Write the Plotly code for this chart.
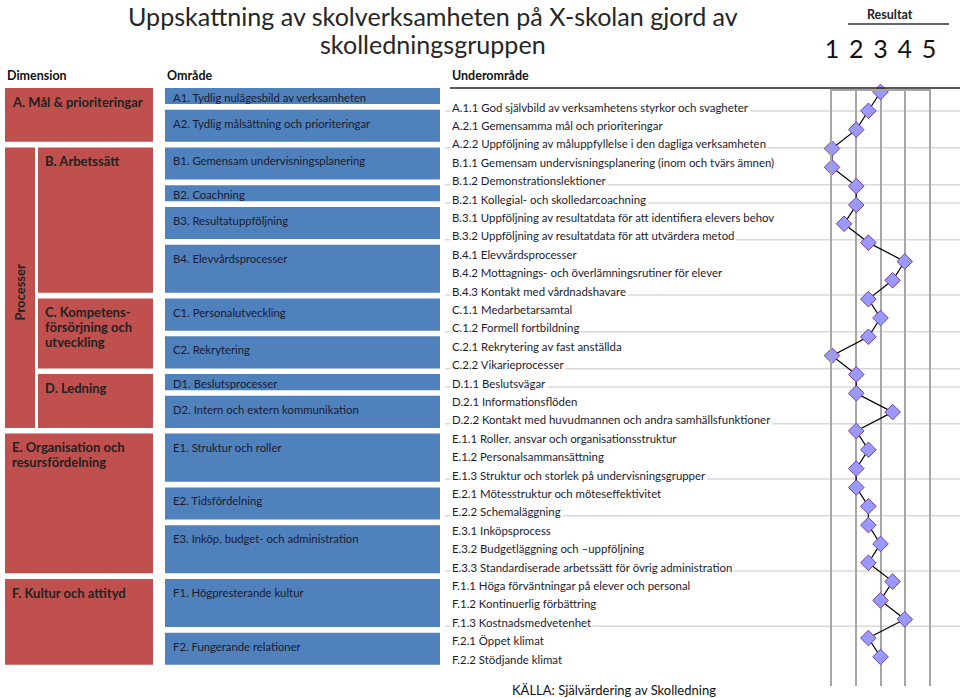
import plotly.graph_objects as go

# ---------------- data ----------------
dimensions = ["A. Mål & prioriteringar", "B. Arbetssätt",
              "C. Kompetens-<br>försörjning och<br>utveckling", "D. Ledning",
              "E. Organisation och<br>resursfördelning", "F. Kultur och attityd"]
dimension_area_counts = [2, 4, 2, 2, 3, 2]
dimension_in_group = [False, True, True, True, False, False]
group_label = "Processer"

areas = ["A1. Tydlig nulägesbild av verksamheten",
         "A2. Tydlig målsättning och prioriteringar",
         "B1. Gemensam undervisningsplanering",
         "B2. Coachning",
         "B3. Resultatuppföljning",
         "B4. Elevvårdsprocesser",
         "C1. Personalutveckling",
         "C2. Rekrytering",
         "D1. Beslutsprocesser",
         "D2. Intern och extern kommunikation",
         "E1. Struktur och roller",
         "E2. Tidsfördelning",
         "E3. Inköp, budget- och administration",
         "F1. Högpresterande kultur",
         "F2. Fungerande relationer"]
area_subarea_counts = [1, 2, 2, 1, 2, 3, 2, 2, 1, 2, 3, 2, 3, 3, 2]

subareas = [
    "A.1.1 God självbild av verksamhetens styrkor och svagheter",
    "A.2.1 Gemensamma mål och prioriteringar",
    "A.2.2 Uppföljning av måluppfyllelse i den dagliga verksamheten",
    "B.1.1 Gemensam undervisningsplanering (inom och tvärs ämnen)",
    "B.1.2 Demonstrationslektioner",
    "B.2.1 Kollegial- och skolledarcoachning",
    "B.3.1 Uppföljning av resultatdata för att identifiera elevers behov",
    "B.3.2 Uppföljning av resultatdata för att utvärdera metod",
    "B.4.1 Elevvårdsprocesser",
    "B.4.2 Mottagnings- och överlämningsrutiner för elever",
    "B.4.3 Kontakt med vårdnadshavare",
    "C.1.1 Medarbetarsamtal",
    "C.1.2 Formell fortbildning",
    "C.2.1 Rekrytering av fast anställda",
    "C.2.2 Vikarieprocesser",
    "D.1.1 Beslutsvägar",
    "D.2.1 Informationsflöden",
    "D.2.2 Kontakt med huvudmannen och andra samhällsfunktioner",
    "E.1.1 Roller, ansvar och organisationsstruktur",
    "E.1.2 Personalsammansättning",
    "E.1.3 Struktur och storlek på undervisningsgrupper",
    "E.2.1 Mötesstruktur och möteseffektivitet",
    "E.2.2 Schemaläggning",
    "E.3.1 Inköpsprocess",
    "E.3.2 Budgetläggning och –uppföljning",
    "E.3.3 Standardiserade arbetssätt för övrig administration",
    "F.1.1 Höga förväntningar på elever och personal",
    "F.1.2 Kontinuerlig förbättring",
    "F.1.3 Kostnadsmedvetenhet",
    "F.2.1 Öppet klimat",
    "F.2.2 Stödjande klimat",
]

results = [3, 2.5, 2, 1, 1, 2, 2, 1.5, 2.5, 4, 3.5, 2.5, 3, 2.5, 1, 2,
           2, 3.5, 2, 2.5, 2, 2, 2.5, 2.5, 3, 2.5, 3.5, 3, 4, 2.5, 3]
result_ticks = [1, 2, 3, 4, 5]

title_lines = ["Uppskattning av skolverksamheten på X-skolan gjord av",
               "skolledningsgruppen"]
headers = ["Dimension", "Område", "Underområde"]
result_title = "Resultat"
source_text = "KÄLLA: Självärdering av Skolledning"

# ---------------- layout constants (pixels) ----------------
W, H = 960, 698
FONT = "Lato"
RED = "#C0504D"
BLUE = "#4F81BD"
TXT = "#1b1b30"

UNIT_PX, BOX_TOP, GAP = 16.03, 88, 0.356    # boxes (gap between boxes in units)
ROW_PX, ROW0 = 18.4, 107                    # subarea text rows
PT_PX, PT0 = 18.83, 92                      # result points
GRID_TOP, GRID_BOT = 91, 686
X1_PX, X5_PX = 832, 929
DIM_LINE = 14.8 / UNIT_PX                   # line spacing of dimension labels


def py(p):
    return 1 - p / H


fig = go.Figure()

# invisible traces so that the frame axes exist
fig.add_trace(go.Scatter(x=[W / 2], y=[10], xaxis="x", yaxis="y", mode="markers",
                         marker=dict(opacity=0, size=1), hoverinfo="skip",
                         showlegend=False))
fig.add_trace(go.Scatter(x=[W / 2], y=[10], xaxis="x", yaxis="y2", mode="markers",
                         marker=dict(opacity=0, size=1), hoverinfo="skip",
                         showlegend=False))

# result line
fig.add_trace(go.Scatter(
    x=results, y=list(range(len(results))), xaxis="x2", yaxis="y3",
    mode="lines+markers", cliponaxis=False, showlegend=False,
    line=dict(color="black", width=1.2),
    marker=dict(symbol="diamond", size=12, color="#9999FF",
                line=dict(color="#7a3f96", width=1))))

shapes = []
ann = []

# area boxes (blue)
cum = 0
area_tops = []
area_bottoms = []
for k, (name, n) in enumerate(zip(areas, area_subarea_counts)):
    y0 = cum + k * GAP
    y1 = y0 + n
    area_tops.append(y0)
    area_bottoms.append(y1)
    shapes.append(dict(type="rect", xref="x", yref="y", x0=165, x1=440,
                       y0=y0, y1=y1, fillcolor=BLUE, line=dict(width=0),
                       layer="above"))
    off = min(0.84, n / 2 + 0.1)
    ann.append(dict(text=name, xref="x", yref="y", x=171, y=y0 + off,
                    xanchor="left", yanchor="middle", showarrow=False,
                    font=dict(family=FONT, size=11.3, color=TXT)))
    cum += n

# dimension boxes (red)
ai = 0
group_top = group_bottom = None
for name, na, inner in zip(dimensions, dimension_area_counts, dimension_in_group):
    y0 = area_tops[ai]
    y1 = area_bottoms[ai + na - 1]
    x0 = 38 if inner else 5
    shapes.append(dict(type="rect", xref="x", yref="y", x0=x0, x1=153,
                       y0=y0, y1=y1, fillcolor=RED, line=dict(width=0),
                       layer="above"))
    for j, line in enumerate(name.split("<br>")):
        ann.append(dict(text="<b>" + line + "</b>", xref="x", yref="y", x=x0 + 5,
                        y=y0 + 0.86 + j * DIM_LINE, xanchor="left",
                        yanchor="middle", showarrow=False,
                        font=dict(family=FONT, size=13, color="#222222")))
    if inner:
        if group_top is None:
            group_top = y0
        group_bottom = y1
    ai += na

shapes.append(dict(type="rect", xref="x", yref="y", x0=5, x1=35,
                   y0=group_top, y1=group_bottom, fillcolor=RED,
                   line=dict(width=0), layer="above"))
ann.append(dict(text="<b>" + group_label + "</b>", xref="x", yref="y", x=20,
                y=(group_top + group_bottom) / 2 + 0.3, textangle=-90,
                showarrow=False, font=dict(family=FONT, size=13, color="#222222")))

# subarea group separator lines
cum = 0
for n in area_subarea_counts[:-1]:
    cum += n
    yl = cum - 1 + 0.22
    shapes.append(dict(type="line", xref="x", yref="y2", x0=445, x1=960,
                       y0=yl, y1=yl,
                       line=dict(color="#d9d9d9", width=1.5), layer="below"))

# subarea labels
for i, name in enumerate(subareas):
    ann.append(dict(text=name, xref="x", yref="y2", x=450, y=i,
                    xanchor="left", yanchor="middle", showarrow=False,
                    bgcolor="white", borderpad=1,
                    font=dict(family=FONT, size=11.4, color=TXT)))

# headers
for name, xh in zip(headers, [5, 165, 450]):
    ann.append(dict(text="<b>" + name + "</b>", xref="x", yref="paper", x=xh,
                    y=py(75), xanchor="left", yanchor="middle", showarrow=False,
                    font=dict(family=FONT, size=12.5, color="#111111")))
shapes.append(dict(type="line", xref="x", yref="paper", x0=450, x1=960,
                   y0=py(88), y1=py(88), line=dict(color="#222222", width=1.5)))

ann.append(dict(text="<b>" + result_title + "</b>", xref="x", yref="paper", x=890,
                y=py(15), xanchor="center", yanchor="middle", showarrow=False,
                font=dict(family=FONT, size=12.5, color="#222222")))
shapes.append(dict(type="line", xref="x", yref="paper", x0=848, x1=949,
                   y0=py(24), y1=py(24), line=dict(color="#333333", width=1.5)))

# title (two centred lines)
ann.append(dict(text=title_lines[0], xref="x", yref="paper", x=433, y=1,
                xanchor="center", yanchor="top", borderpad=0, showarrow=False,
                font=dict(family=FONT, size=25.1, color="#262626")))
ann.append(dict(text=title_lines[1], xref="x", yref="paper", x=433, y=py(44),
                xanchor="center", yanchor="middle", showarrow=False,
                font=dict(family=FONT, size=25.1, color="#262626")))

ann.append(dict(text=source_text, xref="x", yref="paper", x=614, y=py(690),
                xanchor="center", yanchor="middle", showarrow=False,
                font=dict(family=FONT, size=13, color="#111111")))

fig.update_layout(
    width=W, height=H,
    margin=dict(l=0, r=0, t=0, b=0, pad=0, autoexpand=False),
    paper_bgcolor="white", plot_bgcolor="rgba(0,0,0,0)",
    showlegend=False,
    xaxis=dict(domain=[0, 1], range=[0, W], visible=False, fixedrange=True),
    yaxis=dict(domain=[0, 1], range=[(H - BOX_TOP) / UNIT_PX, -BOX_TOP / UNIT_PX],
               visible=False, anchor="x"),
    yaxis2=dict(domain=[0, 1], range=[(H - ROW0) / ROW_PX, -ROW0 / ROW_PX],
                visible=False, overlaying="y", anchor="x"),
    xaxis2=dict(domain=[X1_PX / W, X5_PX / W], range=[1, 5], anchor="y3",
                side="top", showline=True, linecolor="#a6a6a6", linewidth=1.5,
                showgrid=True, gridcolor="#a6a6a6", gridwidth=1.5, zeroline=False,
                tickmode="array", tickvals=result_ticks,
                ticktext=[str(t) for t in result_ticks], ticks="",
                ticklabelstandoff=21,
                tickfont=dict(family=FONT, size=25, color="#111111")),
    yaxis3=dict(domain=[py(GRID_BOT), py(GRID_TOP)], anchor="x2",
                range=[(GRID_BOT - PT0) / PT_PX, (GRID_TOP - PT0) / PT_PX],
                showline=True, mirror=True, linecolor="#a6a6a6", linewidth=1.5,
                showgrid=False, zeroline=False, showticklabels=False, ticks=""),
    shapes=shapes, annotations=ann,
)

fig.write_html("out.html")
